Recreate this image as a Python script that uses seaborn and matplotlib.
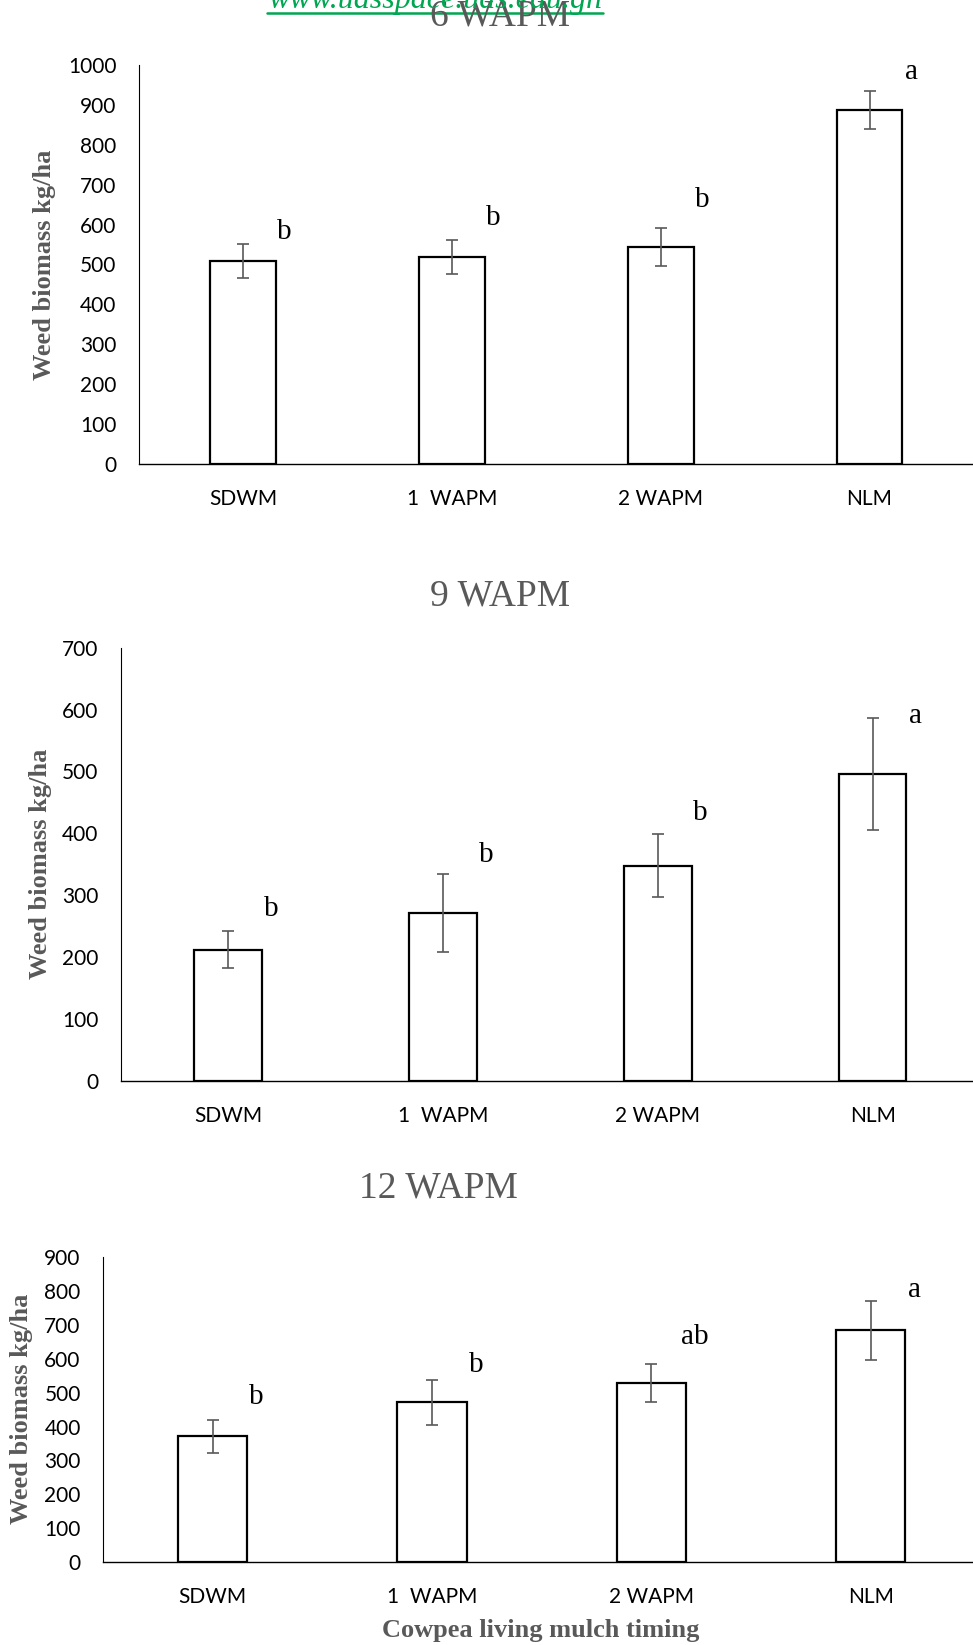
import numpy as np
import pandas as pd
import matplotlib
matplotlib.use("Agg")
import matplotlib.pyplot as plt
import seaborn as sns

# treatments (x categories)
treatments = ["SDWM", "1  WAPM", "2 WAPM", "NLM"]

# weed biomass (kg/ha) and standard errors
biomass_6 = [509, 519, 543, 888]
err_6 = [43, 43, 48, 48]
letters_6 = ["b", "b", "b", "a"]

biomass_9 = [212, 271, 348, 496]
err_9 = [30, 63, 51, 90]
letters_9 = ["b", "b", "b", "a"]

biomass_12 = [371, 471, 528, 684]
err_12 = [48, 67, 57, 87]
letters_12 = ["b", "b", "ab", "a"]

titles = ["6 WAPM", "9 WAPM", "12 WAPM"]
ymax = [1000, 700, 900]

# where the significance letters sit (baseline, in data units)
letter_base = [[565, 599, 645, 964],
               [266, 354, 421, 579],
               [466, 562, 644, 784]]

W, H = 973, 1645
# axes boxes in pixels: left, top, right, bottom
boxes = [(138.5, 65, 974, 464),
         (120.7, 647.6, 980, 1081),
         (102.9, 1257.4, 980.5, 1561.8)]
title_pos = [(500, 25), (500, 606), (438, 1198)]
ylabel_pos = [(45, 265), (41, 864), (22, 1409)]

GREY = "#595959"
SERIF = ["Liberation Serif", "DejaVu Serif"]

sns.set_style("white")
plt.rcParams["font.family"] = ["Lato", "DejaVu Sans"]

fig = plt.figure(figsize=(W / 100, H / 100), dpi=100)

data = [(biomass_6, err_6, letters_6),
        (biomass_9, err_9, letters_9),
        (biomass_12, err_12, letters_12)]

for i, (vals, errs, lets) in enumerate(data):
    l, t, r, b = boxes[i]
    ax = fig.add_axes([l / W, 1 - b / H, (r - l) / W, (b - t) / H])
    df = pd.DataFrame({"treatment": treatments, "biomass": vals})
    sns.barplot(data=df, x="treatment", y="biomass", color="white",
                saturation=1, edgecolor="black", linewidth=1.6,
                width=0.315, errorbar=None, ax=ax)
    ax.errorbar(np.arange(len(vals)), vals, yerr=errs, fmt="none",
                ecolor=GREY, elinewidth=1.2, capsize=4.5, capthick=1.2,
                zorder=5)
    for j, lt in enumerate(lets):
        ax.text(j + 0.2, letter_base[i][j], lt, ha="center", va="baseline",
                fontsize=21, family=SERIF, color="black")

    ax.set_xlim(-0.5, 3.5)
    ax.set_ylim(0, ymax[i])
    ax.set_yticks(np.arange(0, ymax[i] + 1, 100))
    ax.set_xlabel("")
    ax.set_ylabel("")
    ax.spines["top"].set_visible(False)
    ax.spines["right"].set_visible(False)
    ax.spines["left"].set_linewidth(0.8)
    ax.spines["bottom"].set_linewidth(1.0)
    ax.spines["left"].set_color("black")
    ax.spines["bottom"].set_color("black")
    ax.tick_params(axis="y", length=0, pad=16, labelsize=15, labelcolor="black")
    ax.tick_params(axis="x", length=0, pad=18, labelsize=15, labelcolor="black")

    tx, ty = title_pos[i]
    fig.text(tx / W, 1 - ty / H, titles[i], ha="center", va="baseline",
             fontsize=27, family=SERIF, color=GREY)
    yx, yy = ylabel_pos[i]
    fig.text(yx / W, 1 - yy / H, "Weed biomass kg/ha", rotation=90,
             ha="center", va="center", fontsize=19, fontweight="bold",
             family=SERIF, color=GREY)

fig.text(541 / W, 1 - 1637 / H, "Cowpea living mulch timing", ha="center",
         va="baseline", fontsize=19, fontweight="bold", family=SERIF,
         color=GREY)

# repository watermark at the top edge
GREEN = "#00A651"
fig.text(435 / W, 1 - 8 / H, "www.udsspace.uds.edu.gh", ha="center",
         va="baseline", fontsize=23, style="italic", family=SERIF, color=GREEN)
fig.add_artist(plt.Line2D([267 / W, 603 / W], [1 - 13 / H, 1 - 13 / H],
                          color=GREEN, lw=1.8))

fig.savefig("out.png", dpi=100)
